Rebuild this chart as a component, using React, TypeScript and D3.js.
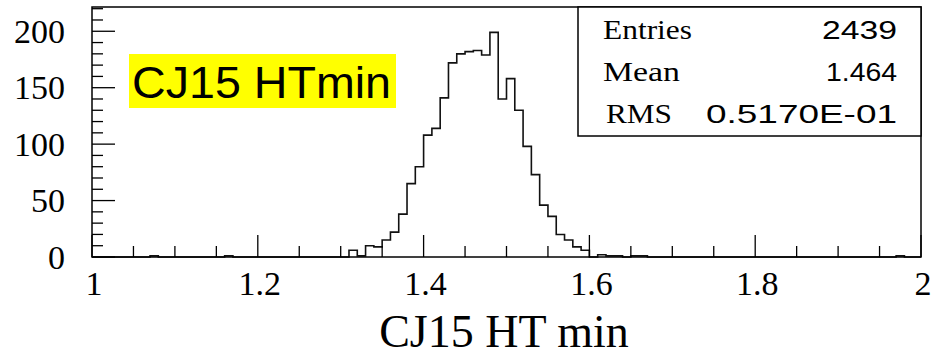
import React from 'react';
import * as d3 from 'd3';

const xDomain: [number, number] = [1, 2];
const yDomain: [number, number] = [0, 221.5];
const nBins = 100;
// bin contents, 100 bins from 1 to 2
const counts: number[] = [
  0, 0, 0, 0, 0, 0, 0, 1, 0, 0,
  0, 0, 0, 0, 0, 0, 1, 0, 0, 0,
  0, 0, 0, 0, 0, 0, 0, 0, 0, 0,
  0, 6, 1, 10, 9, 15, 22, 38, 65, 80,
  108, 114, 141, 172, 180, 182, 183, 179, 199, 140,
  158, 130, 98, 73, 46, 36, 20, 15, 9, 6,
  0, 2, 1, 1, 0, 1, 1, 0, 0, 0,
  0, 0, 0, 0, 0, 0, 0, 0, 0, 0,
  0, 0, 0, 0, 0, 0, 0, 0, 0, 0,
  0, 0, 0, 0, 0, 0, 0, 1, 0, 0,
];
const xMajorTicks = [1, 1.2, 1.4, 1.6, 1.8, 2];
const xTickLabels = ['1', '1.2', '1.4', '1.6', '1.8', '2'];
const yMajorTicks = [0, 50, 100, 150, 200];
const yTickLabels = ['0', '50', '100', '150', '200'];
const statsLabels = ['Entries', 'Mean', 'RMS'];
const statsValues = ['2439', '1.464', '0.5170E-01'];
const titleText = 'CJ15 HTmin';
const xTitleText = 'CJ15 HT min';

const W = 931, H = 356;
const L = 92, R = 921, T = 7, B = 257;
const SERIF = "'Liberation Serif', 'Times New Roman', serif";
const SANS = "'Liberation Sans', Arial, sans-serif";

export default function App() {
  const x = d3.scaleLinear().domain(xDomain).range([L, R]);
  const y = d3.scaleLinear().domain(yDomain).range([B, T]);
  const bw = (xDomain[1] - xDomain[0]) / nBins;

  const pts: [number, number][] = [[xDomain[0], 0]];
  counts.forEach((c, i) => pts.push([xDomain[0] + i * bw, c]));
  pts.push([xDomain[1], counts[nBins - 1]]);
  pts.push([xDomain[1], 0]);
  const line = d3.line<[number, number]>().x(d => x(d[0])).y(d => y(d[1])).curve(d3.curveStepAfter);
  const pathD = line(pts) || '';

  const xMinor = d3.range(0, 21).map(i => xDomain[0] + i * 0.05).filter(v => !xMajorTicks.some(m => Math.abs(m - v) < 1e-6));
  const yMinor = d3.range(0, 23).map(i => i * 10).filter(v => v <= yDomain[1] && v % 50 !== 0);

  const statsX = 578, statsW = R - 578, statsH = 129;
  const statsBase = [39, 81, 123];
  const labelX = [603, 603, 606];
  const labelLens = [89, 77, 66];
  const valueLens = [75, 71, 191];
  const valueRight = 897;

  return (
    <svg width={W} height={H} style={{ position: 'absolute', left: 0, top: 0, background: '#fff' }}>
      <rect x={0} y={0} width={W} height={H} fill="#fff" />
      {/* histogram */}
      <path d={pathD} fill="none" stroke="#111" strokeWidth={1.6} />
      {/* ticks */}
      {xMajorTicks.map(v => (
        <line key={'xM' + v} x1={x(v)} x2={x(v)} y1={B} y2={B - 22} stroke="#000" strokeWidth={1.3} />
      ))}
      {xMinor.map(v => (
        <line key={'xm' + v} x1={x(v)} x2={x(v)} y1={B} y2={B - 11} stroke="#000" strokeWidth={1.3} />
      ))}
      {yMajorTicks.map(v => (
        <line key={'yM' + v} x1={L} x2={L + 23} y1={y(v)} y2={y(v)} stroke="#000" strokeWidth={1.3} />
      ))}
      {yMinor.map(v => (
        <line key={'ym' + v} x1={L} x2={L + 11} y1={y(v)} y2={y(v)} stroke="#000" strokeWidth={1.3} />
      ))}
      {/* frame */}
      <rect x={L} y={T} width={R - L} height={B - T} fill="none" stroke="#000" strokeWidth={1.5} />
      {/* tick labels */}
      {xMajorTicks.map((v, i) => (
        <text key={'xl' + v} x={x(v) + 2} y={295} textAnchor="middle" fontFamily={SERIF} fontSize={34} fill="#000">{xTickLabels[i]}</text>
      ))}
      {yMajorTicks.map((v, i) => (
        <text key={'yl' + v} x={65} y={y(v) + 11.5} textAnchor="end" fontFamily={SERIF} fontSize={34} fill="#000">{yTickLabels[i]}</text>
      ))}
      {/* axis title */}
      <text x={504} y={347} textAnchor="middle" fontFamily={SERIF} fontSize={46} fill="#000">{xTitleText}</text>
      {/* yellow label */}
      <rect x={129} y={54} width={267} height={54} fill="#ffff00" />
      <text x={132} y={98} fontFamily={SANS} fontSize={45} fill="#000" textLength={259} lengthAdjust="spacingAndGlyphs">{titleText}</text>
      {/* stats box */}
      <rect x={statsX} y={T} width={statsW} height={statsH} fill="#fff" stroke="#000" strokeWidth={1.5} />
      {statsLabels.map((s, i) => (
        <text key={'sl' + s} x={labelX[i]} y={statsBase[i]} fontFamily={SERIF} fontSize={27} fill="#000" textLength={labelLens[i]} lengthAdjust="spacingAndGlyphs">{s}</text>
      ))}
      {statsValues.map((s, i) => (
        <text key={'sv' + s} x={valueRight - valueLens[i]} y={statsBase[i]} fontFamily={SANS} fontSize={25} fill="#000" textLength={valueLens[i]} lengthAdjust="spacingAndGlyphs">{s}</text>
      ))}
    </svg>
  );
}
